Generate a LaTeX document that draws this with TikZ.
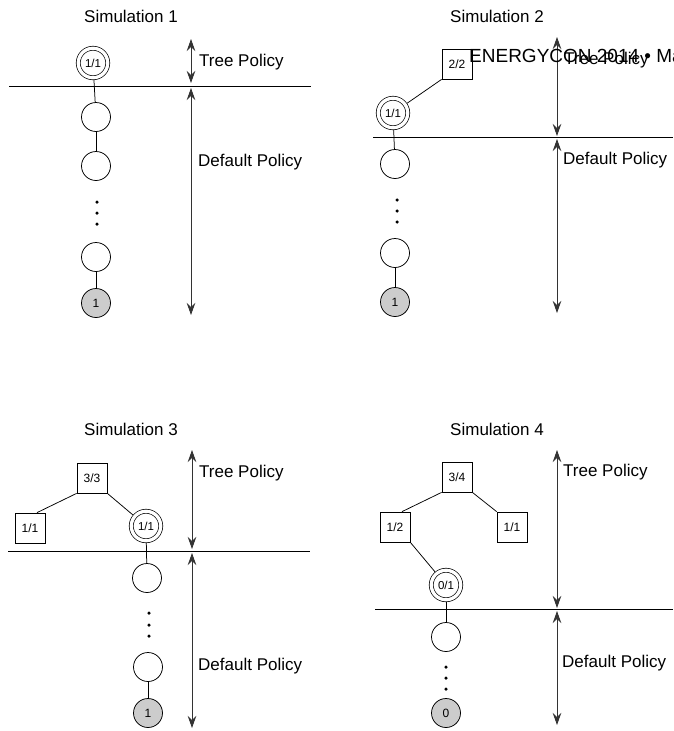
\documentclass[tikz,border=0pt]{standalone}
\usepackage{fontspec}
\setmainfont{Liberation Sans}
\usetikzlibrary{arrows.meta}
\begin{document}
\begin{tikzpicture}[x=1pt,y=-1pt,
  lbl/.style={font=\fontsize{17}{20}\selectfont, inner sep=0pt},
  pnode/.style={circle, draw, line width=0.75pt, minimum size=29pt, inner sep=0pt},
  leaf/.style={pnode, fill=black!20, font=\fontsize{12}{14}\selectfont},
  dcirc/.style={circle, draw, line width=0.7pt, double, double distance=3.3pt, minimum size=29.5pt, inner sep=0pt, outer sep=2.4pt, font=\fontsize{11.5}{13}\selectfont},
  sq/.style={rectangle, draw, line width=0.75pt, minimum size=30pt, inner sep=0pt, font=\fontsize{12}{14}\selectfont},
  dotnode/.style={circle, fill, minimum size=3.5pt, inner sep=0pt},
  conn/.style={line width=0.75pt},
  divider/.style={line width=0.9pt},
  policyarrow/.style={line width=0.8pt, draw=black!80, {Stealth[length=12pt,width=8.5pt,inset=4pt]}-{Stealth[length=12pt,width=8.5pt,inset=4pt]}}
]
\useasboundingbox (0,0) rectangle (673,731);

% ---------------- Simulation 1
\node[lbl] (t1) at (131,16) {Simulation 1};
\node[dcirc] (a0) at (93,63) {1/1};
\node[pnode] (a1) at (96,117) {};
\node[pnode] (a2) at (96,166) {};
\node[dotnode] (ad1) at (97,202) {};
\node[dotnode] (ad2) at (97,213) {};
\node[dotnode] (ad3) at (97,224) {};
\node[pnode] (a3) at (96,257) {};
\node[leaf] (a4) at (96,303) {1};
\draw[conn] (a0) -- (a1);
\draw[conn] (a1) -- (a2);
\draw[conn] (a3) -- (a4);
\coordinate (al) at (9,86);
\coordinate (ar) at (311,86);
\draw[divider] (al) -- (ar);
\coordinate (ap1) at (191,39);
\coordinate (ap2) at (191,83);
\coordinate (ap3) at (191,88);
\coordinate (ap4) at (191,315);
\draw[policyarrow] (ap1) -- (ap2);
\draw[policyarrow] (ap3) -- (ap4);
\node[lbl, anchor=west] (atp) at (199,62) {Tree Policy};
\node[lbl, anchor=west] (adp) at (198,162) {Default Policy};

% ---------------- Simulation 2
\node[lbl] (t2) at (497,16) {Simulation 2};
\node[sq] (b0) at (457,64) {2/2};
\node[dcirc] (b1) at (393,113) {1/1};
\node[pnode] (b2) at (395,164) {};
\node[dotnode] (bd1) at (397,200) {};
\node[dotnode] (bd2) at (397,211) {};
\node[dotnode] (bd3) at (397,222) {};
\node[pnode] (b3) at (395,253) {};
\node[leaf] (b4) at (395,302) {1};
\draw[conn] (b0.south west) -- (b1);
\draw[conn] (b1) -- (b2);
\draw[conn] (b3) -- (b4);
\coordinate (bl) at (373,137);
\coordinate (br) at (673,137);
\draw[divider] (bl) -- (br);
\coordinate (bp1) at (557,37);
\coordinate (bp2) at (557,136);
\coordinate (bp3) at (557,139);
\coordinate (bp4) at (557,313);
\draw[policyarrow] (bp1) -- (bp2);
\draw[policyarrow] (bp3) -- (bp4);
\node[lbl, anchor=west] (btp) at (564,60) {Tree Policy};
\node[lbl, anchor=west] (bdp) at (563,160) {Default Policy};
\node[inner sep=0pt, anchor=base west, font=\fontsize{19}{22}\selectfont] (hdr) at (469,62) {ENERGYCON 2014 • Ma};

% ---------------- Simulation 3
\node[lbl] (t3) at (131,429) {Simulation 3};
\node[sq] (c0) at (92,478) {3/3};
\node[sq] (c1) at (30,528) {1/1};
\node[dcirc] (c2) at (146,526) {1/1};
\node[pnode] (c3) at (147,578) {};
\node[dotnode] (cd1) at (149,613) {};
\node[dotnode] (cd2) at (149,625) {};
\node[dotnode] (cd3) at (149,636) {};
\node[pnode] (c4) at (148,667) {};
\node[leaf] (c5) at (148,713) {1};
\draw[conn] (c0.south west) -- ([xshift=7pt]c1.north);
\draw[conn] (c0.south east) -- (c2);
\draw[conn] (c2) -- (c3);
\draw[conn] (c4) -- (c5);
\coordinate (cl) at (8,551);
\coordinate (cr) at (310,551);
\draw[divider] (cl) -- (cr);
\coordinate (cp1) at (192,450);
\coordinate (cp2) at (192,549);
\coordinate (cp3) at (192,553);
\coordinate (cp4) at (192,728);
\draw[policyarrow] (cp1) -- (cp2);
\draw[policyarrow] (cp3) -- (cp4);
\node[lbl, anchor=west] (ctp) at (199,473) {Tree Policy};
\node[lbl, anchor=west] (cdp) at (198,666) {Default Policy};

% ---------------- Simulation 4
\node[lbl] (t4) at (497,429) {Simulation 4};
\node[sq] (d0) at (457,477) {3/4};
\node[sq] (d1) at (395,527) {1/2};
\node[sq] (d2) at (512,527) {1/1};
\node[dcirc] (d3) at (446,585) {0/1};
\node[pnode] (d4) at (446,637) {};
\node[dotnode] (dd1) at (446,667) {};
\node[dotnode] (dd2) at (446,678) {};
\node[dotnode] (dd3) at (446,689) {};
\node[leaf] (d5) at (446,713) {0};
\draw[conn] (d0.south west) -- ([xshift=7pt]d1.north);
\draw[conn] (d0.south east) -- (d2.north west);
\draw[conn] (d1.south east) -- (d3);
\draw[conn] (d3) -- (d4);
\coordinate (dl) at (375,609);
\coordinate (dr) at (673,609);
\draw[divider] (dl) -- (dr);
\coordinate (dp1) at (557,450);
\coordinate (dp2) at (557,608);
\coordinate (dp3) at (557,611);
\coordinate (dp4) at (557,725);
\draw[policyarrow] (dp1) -- (dp2);
\draw[policyarrow] (dp3) -- (dp4);
\node[lbl, anchor=west] (dtp) at (563,472) {Tree Policy};
\node[lbl, anchor=west] (ddp) at (562,663) {Default Policy};
\end{tikzpicture}
\end{document}
